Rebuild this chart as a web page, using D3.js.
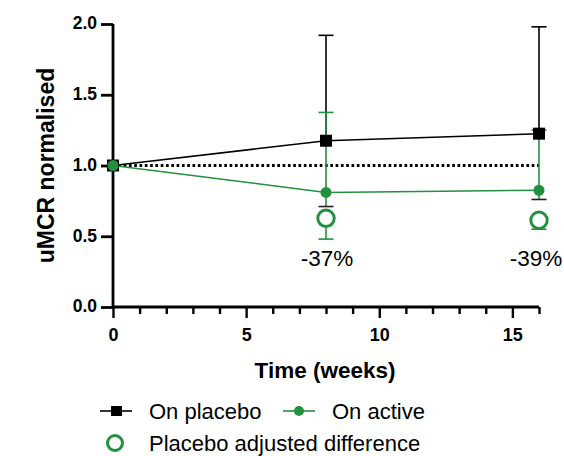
<!DOCTYPE html>
<html>
<head>
<meta charset="utf-8">
<script src="https://cdn.jsdelivr.net/npm/d3@7"></script>
<style>
	body { margin: 0; background: #fff; }
	svg { font-family: "Liberation Sans", Arial, sans-serif; }
</style>
</head>
<body>
<div id="chart"></div>
<script>
const weeks = [0, 8, 16];
const placeboMean = [1.0, 1.175, 1.225];
const placeboUpper = [1.0, 1.92, 1.98];
const activeMean = [1.0, 0.81, 0.825];
const activeUpper = [1.0, 1.375, 1.25];
const activeLower = [1.0, 0.71, 0.76];
const diffWeeks = [8, 16];
const diffMean = [0.627, 0.613];
const diffLower = [0.48, 0.55];
const diffLabels = ["-37%", "-39%"];
const yTicks = [0, 0.5, 1.0, 1.5, 2.0];
const xTicks = [0, 5, 10, 15];

const green = "#21913f";
const width = 564, height = 456;
const margin = { top: 24, left: 113, right: 25, bottom: 149 };

const svg = d3.select("#chart").append("svg")
	.attr("width", width)
	.attr("height", height);

const x = d3.scaleLinear().domain([0, 16]).range([margin.left, width - margin.right]);
const y = d3.scaleLinear().domain([0, 2]).range([height - margin.bottom, margin.top]);

//axes
const yAxis = svg.append("g")
	.attr("transform", `translate(${margin.left},0)`)
	.call(d3.axisLeft(y).tickValues(yTicks).tickFormat(d3.format(".1f")).tickSize(12).tickPadding(4));
yAxis.select(".domain").attr("stroke-width", 2.8).attr("d", `M0,${y(2)}V${y(0)}`);
yAxis.selectAll(".tick line").attr("stroke-width", 2.8);
yAxis.selectAll("text").attr("font-size", 17.5).attr("font-weight", "bold").attr("fill", "#000").attr("dy", "0.28em");

const xAxis = svg.append("g")
	.attr("transform", `translate(0,${y(0)})`)
	.call(d3.axisBottom(x).tickValues(d3.range(0, 17)).tickFormat(d => xTicks.includes(d) ? d : "").tickSize(6).tickPadding(4));
xAxis.select(".domain").attr("stroke-width", 2.8).attr("d", `M${x(0)},0H${x(16)}`);
xAxis.selectAll(".tick line").attr("stroke-width", 2.4)
	.attr("y2", d => xTicks.includes(d) ? 11 : 7);
xAxis.selectAll("text").attr("font-size", 18).attr("font-weight", "bold").attr("fill", "#000")
	.attr("y", 34).attr("dy", 0);

//axis titles
svg.append("text")
	.attr("transform", `translate(54,${y(1)}) rotate(-90)`)
	.attr("text-anchor", "middle")
	.attr("font-size", 23).attr("font-weight", "bold")
	.text("uMCR normalised");
svg.append("text")
	.attr("x", 325).attr("y", 378)
	.attr("text-anchor", "middle")
	.attr("font-size", 22.5).attr("font-weight", "bold")
	.text("Time (weeks)");

//reference line
svg.append("line")
	.attr("x1", x(0)).attr("x2", x(16))
	.attr("y1", y(1)).attr("y2", y(1))
	.attr("stroke", "#000").attr("stroke-width", 2.8)
	.attr("stroke-dasharray", "2.7,2.6");

const capW = 7.5;
function errorBar(g, xv, from, to, color, capColor) {
	g.append("line").attr("x1", x(xv)).attr("x2", x(xv)).attr("y1", y(from)).attr("y2", y(to))
		.attr("stroke", color).attr("stroke-width", 1.6);
	g.append("line").attr("x1", x(xv) - capW).attr("x2", x(xv) + capW).attr("y1", y(to)).attr("y2", y(to))
		.attr("stroke", capColor || color).attr("stroke-width", 1.6);
}

const bars = svg.append("g");
weeks.forEach((w, i) => {
	if (i === 0) return;
	errorBar(bars, w, placeboMean[i], placeboUpper[i], "#000");
});
weeks.forEach((w, i) => {
	if (i === 0) return;
	errorBar(bars, w, activeMean[i], activeUpper[i], green);
	errorBar(bars, w, activeMean[i], activeLower[i], green, "#222");
});
diffWeeks.forEach((w, i) => {
	errorBar(bars, w, diffMean[i], diffLower[i], green);
});

//lines
const line = d3.line().x((d, i) => x(weeks[i])).y(d => y(d));
svg.append("path").datum(placeboMean).attr("d", line)
	.attr("fill", "none").attr("stroke", "#000").attr("stroke-width", 1.5);
svg.append("path").datum(activeMean).attr("d", line)
	.attr("fill", "none").attr("stroke", green).attr("stroke-width", 1.5);

//markers
svg.selectAll(".placebo").data(placeboMean).join("rect")
	.attr("class", "placebo")
	.attr("x", (d, i) => x(weeks[i]) - 6).attr("y", d => y(d) - 6)
	.attr("width", 12).attr("height", 12).attr("fill", "#000");
svg.selectAll(".active").data(activeMean).join("circle")
	.attr("class", "active")
	.attr("cx", (d, i) => x(weeks[i])).attr("cy", d => y(d))
	.attr("r", 5.5).attr("fill", green);
svg.selectAll(".diff").data(diffMean).join("circle")
	.attr("class", "diff")
	.attr("cx", (d, i) => x(diffWeeks[i])).attr("cy", d => y(d))
	.attr("r", 8.2).attr("fill", "#fff").attr("stroke", green).attr("stroke-width", 3);

//difference labels (last one nudged in so it stays on the page)
svg.selectAll(".diff-label").data(diffLabels).join("text")
	.attr("class", "diff-label")
	.attr("x", (d, i) => Math.min(x(diffWeeks[i]) + 1, width - 28))
	.attr("y", 265.5)
	.attr("text-anchor", "middle")
	.attr("font-size", 22.5)
	.text(d => d);

//legend
const legend = svg.append("g");
const row1 = 411, row2 = 443;
legend.append("line").attr("x1", 100).attr("x2", 132).attr("y1", row1).attr("y2", row1)
	.attr("stroke", "#000").attr("stroke-width", 1.6);
legend.append("rect").attr("x", 111).attr("y", row1 - 5).attr("width", 11).attr("height", 10).attr("fill", "#000");
legend.append("text").attr("x", 149).attr("y", 419).attr("font-size", 22).text("On placebo");
legend.append("line").attr("x1", 283).attr("x2", 315).attr("y1", row1).attr("y2", row1)
	.attr("stroke", green).attr("stroke-width", 1.6);
legend.append("circle").attr("cx", 299).attr("cy", row1).attr("r", 5).attr("fill", green);
legend.append("text").attr("x", 332).attr("y", 419).attr("font-size", 22).text("On active");
legend.append("circle").attr("cx", 115).attr("cy", row2).attr("r", 7.5)
	.attr("fill", "#fff").attr("stroke", green).attr("stroke-width", 3);
legend.append("text").attr("x", 149).attr("y", 451).attr("font-size", 22).text("Placebo adjusted difference");
</script>
</body>
</html>
